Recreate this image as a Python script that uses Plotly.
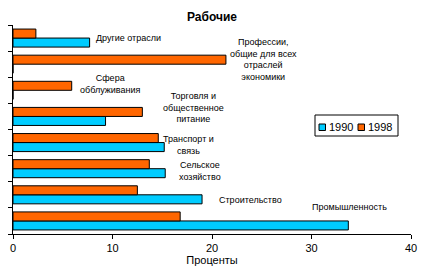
import plotly.graph_objects as go

# Categories, top to bottom as shown
categories = ["Другие отрасли", "Профессии", "Сфера обслуживания", "Торговля",
              "Транспорт", "Сельское хозяйство", "Строительство", "Промышленность"]
values_1990 = [7.7, 0, 0, 9.3, 15.2, 15.3, 19.0, 33.7]
values_1998 = [2.3, 21.4, 5.9, 13.0, 14.6, 13.7, 12.5, 16.8]
series_names = ["1990", "1998"]
series_colors = ["#00CCFF", "#FF6600"]
x_ticks = [0, 10, 20, 30, 40]

# Text labels next to the bars
label_texts = ["Другие отрасли",
               "Профессии,<br>общие для всех<br>отраслей<br>экономики",
               "Сфера<br>обблуживания",
               "Торговля и<br>общественное<br>питание",
               "Транспорт и<br>связь",
               "Сельское<br>хозяйство",
               "Строительство",
               "Промышленность"]
label_x = [11.63, 25.16, 9.70, 18.19, 17.59, 18.79, 23.82, 33.77]
label_y = [0.939, 0.837, 0.718, 0.603, 0.427, 0.300, 0.163, 0.131]

FONT = "Liberation Sans, Arial, sans-serif"

fig = go.Figure()
for name, vals, col in zip(series_names, [values_1990, values_1998], series_colors):
    fig.add_trace(go.Bar(y=categories, x=vals, orientation="h", name=name,
                         marker=dict(color=col, line=dict(color="black", width=1))))

for t, xx, yy in zip(label_texts, label_x, label_y):
    fig.add_annotation(text=t, x=xx, y=yy, xref="x", yref="paper", showarrow=False,
                       xanchor="center", yanchor="middle",
                       font=dict(family=FONT, size=9, color="black"), align="center")

# Legend box (drawn in paper coordinates)
PW, PH, L, B = 398.0, 209.0, 13.0, 234.0
def px(x):
    return (x - L) / PW
def py(y):
    return (B - y) / PH

fig.add_shape(type="rect", xref="paper", yref="paper",
              x0=px(315), x1=px(398), y0=py(136), y1=py(115),
              line=dict(color="black", width=1), fillcolor="white", layer="above")
sq_x = [319, 358]
tx_x = [327, 366]
for name, col, sx, tx in zip(series_names, series_colors, sq_x, tx_x):
    fig.add_shape(type="rect", xref="paper", yref="paper",
                  x0=px(sx), x1=px(sx + 6.5), y0=py(130.5), y1=py(124),
                  line=dict(color="black", width=1), fillcolor=col, layer="above")
    fig.add_annotation(text=name, x=px(tx), y=py(126.5), xref="paper", yref="paper",
                       xanchor="left", yanchor="middle", showarrow=False,
                       font=dict(family=FONT, size=11, color="black"))

fig.update_layout(
    width=424, height=275,
    margin=dict(l=13, r=13, t=25, b=41, autoexpand=False),
    paper_bgcolor="white", plot_bgcolor="white",
    barmode="group", bargap=0.31, bargroupgap=0,
    font=dict(family=FONT, size=11, color="black"),
    title=dict(text="<b>Рабочие</b>", x=0.5, xanchor="center", y=0.94, yanchor="middle",
               font=dict(family=FONT, size=12, color="black")),
    showlegend=False,
    xaxis=dict(range=[0, 40], tickvals=x_ticks, ticks="outside", ticklen=4,
               tickcolor="black", showline=True, linecolor="black", linewidth=1,
               showgrid=False, zeroline=False, automargin=False,
               title=dict(text="Проценты", font=dict(family=FONT, size=11), standoff=2),
               tickfont=dict(family=FONT, size=11)),
    yaxis=dict(categoryorder="array", categoryarray=list(reversed(categories)),
               showticklabels=False, ticks="outside", ticklen=4, tickcolor="black",
               tickson="boundaries", showline=True, linecolor="black", linewidth=1,
               showgrid=False, zeroline=False, automargin=False),
)

fig.write_html("out.html")
